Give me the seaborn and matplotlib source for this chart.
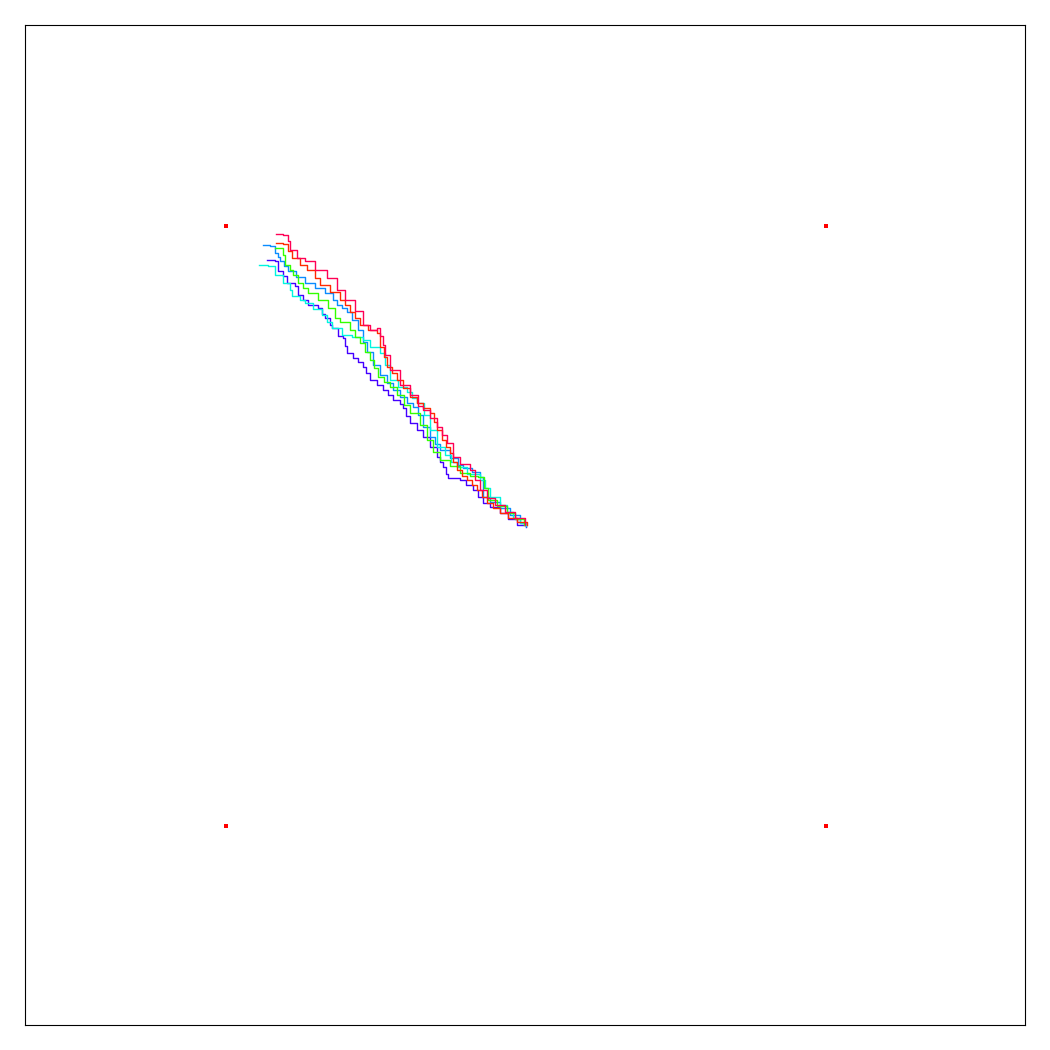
import matplotlib
matplotlib.use('Agg')
import matplotlib.pyplot as plt
import pandas as pd
import seaborn as sns

# walk paths (pixel-like units, y grows downward)
purple = [(267, 260), (275, 261), (278, 271), (283, 276), (287, 283), (295, 286), (298, 295), (303, 300),
          (308, 305), (318, 308), (322, 314), (325, 318), (330, 325), (332, 328), (338, 336), (343, 338),
          (345, 346), (347, 353), (353, 358), (358, 362), (363, 367), (366, 373), (370, 380), (377, 385),
          (383, 390), (388, 395), (393, 400), (400, 404), (403, 408), (406, 416), (410, 423), (417, 430),
          (423, 437), (430, 447), (437, 457), (440, 462), (443, 467), (446, 474), (448, 478), (455, 478),
          (460, 480), (466, 485), (473, 490), (478, 497), (483, 503), (490, 507), (500, 513), (508, 519),
          (517, 525), (526, 527)]
azure = [(263, 245), (270, 246), (275, 253), (278, 257), (280, 261), (284, 266), (288, 271), (296, 277),
         (305, 283), (315, 288), (325, 293), (333, 300), (337, 305), (342, 308), (347, 312), (352, 320),
         (358, 330), (363, 342), (367, 352), (373, 365), (380, 375), (387, 383), (393, 390), (400, 397),
         (407, 403), (413, 407), (418, 415), (423, 427), (430, 437), (435, 444), (440, 450), (450, 458),
         (458, 465), (463, 468), (472, 472), (480, 477), (483, 485), (483, 497), (490, 502), (500, 508),
         (510, 515), (520, 523), (526, 526)]
cyan = [(259, 265), (268, 266), (275, 275), (283, 283), (290, 290), (292, 296), (300, 300), (305, 303),
        (313, 309), (322, 315), (327, 322), (332, 328), (342, 335), (352, 337), (363, 340), (370, 347),
        (380, 353), (385, 365), (390, 380), (398, 387), (407, 392), (412, 398), (417, 403), (424, 415),
        (430, 430), (437, 447), (445, 455), (451, 462), (457, 467), (467, 474), (480, 480), (485, 488),
        (490, 497), (500, 505), (507, 512), (513, 518), (520, 523), (526, 526)]
green = [(275, 248), (283, 255), (285, 265), (290, 270), (293, 275), (298, 283), (303, 288), (308, 293),
         (318, 300), (328, 308), (335, 318), (340, 322), (350, 330), (355, 337), (360, 343), (365, 352),
         (370, 360), (374, 368), (378, 377), (384, 382), (390, 387), (397, 395), (404, 405), (410, 413),
         (420, 425), (427, 440), (433, 452), (440, 460), (450, 466), (460, 473), (470, 476), (478, 477),
         (484, 488), (488, 500), (497, 506), (507, 513), (515, 519), (524, 525)]
red = [(276, 243), (283, 244), (288, 251), (292, 258), (300, 265), (307, 270), (315, 278), (320, 285),
       (330, 292), (340, 300), (345, 305), (350, 312), (355, 318), (360, 325), (368, 330), (377, 333),
       (380, 340), (380, 347), (384, 357), (387, 367), (392, 373), (397, 380), (403, 388), (410, 397),
       (417, 403), (423, 408), (430, 413), (434, 422), (437, 430), (442, 440), (446, 447), (450, 453),
       (453, 462), (457, 470), (462, 476), (467, 480), (472, 485), (477, 490), (482, 497), (487, 503),
       (493, 508), (500, 513), (508, 518), (517, 522), (527, 525)]
crimson = [(276, 234), (283, 235), (288, 241), (290, 250), (297, 258), (305, 261), (315, 270), (327, 278),
           (337, 290), (345, 300), (355, 311), (363, 325), (370, 330), (377, 328), (380, 336), (383, 345),
           (385, 355), (390, 370), (400, 385), (410, 395), (418, 406), (423, 410), (430, 418), (437, 427),
           (442, 435), (447, 443), (453, 457), (460, 464), (470, 470), (475, 480), (480, 490), (487, 498),
           (495, 505), (505, 512), (515, 518), (525, 525)]

walk_names = ['purple', 'azure', 'cyan', 'green', 'red', 'crimson']
walk_colors = ['#4400ff', '#0a8cff', '#00f5e0', '#33ff00', '#ff2a00', '#ff0055']
corners_x = [226, 826, 226, 826]
corners_y = [226, 226, 826, 826]

rows = []
for name, path in zip(walk_names, [purple, azure, cyan, green, red, crimson]):
    for i, (x, y) in enumerate(path):
        rows.append({'walk': name, 'step': i, 'x': x, 'y': y})
df = pd.DataFrame(rows)

fig = plt.figure(figsize=(10.5, 10.5), dpi=100)
ax = fig.add_axes([25 / 1050, 25 / 1050, 1000 / 1050, 1000 / 1050])

sns.lineplot(data=df, x='x', y='y', hue='walk', units='walk', estimator=None, sort=False,
             palette=dict(zip(walk_names, walk_colors)), hue_order=walk_names,
             linewidth=1.0, drawstyle='steps-post', legend=False, ax=ax)
ax.plot(corners_x, corners_y, 's', color='red', markersize=3.2, markeredgewidth=0)

ax.set_xlim(25, 1025)
ax.set_ylim(1025, 25)
ax.set_xticks([])
ax.set_yticks([])
ax.set_xlabel('')
ax.set_ylabel('')
for s in ax.spines.values():
    s.set_linewidth(0.8)
    s.set_color('black')

fig.savefig('out.png', dpi=100)
